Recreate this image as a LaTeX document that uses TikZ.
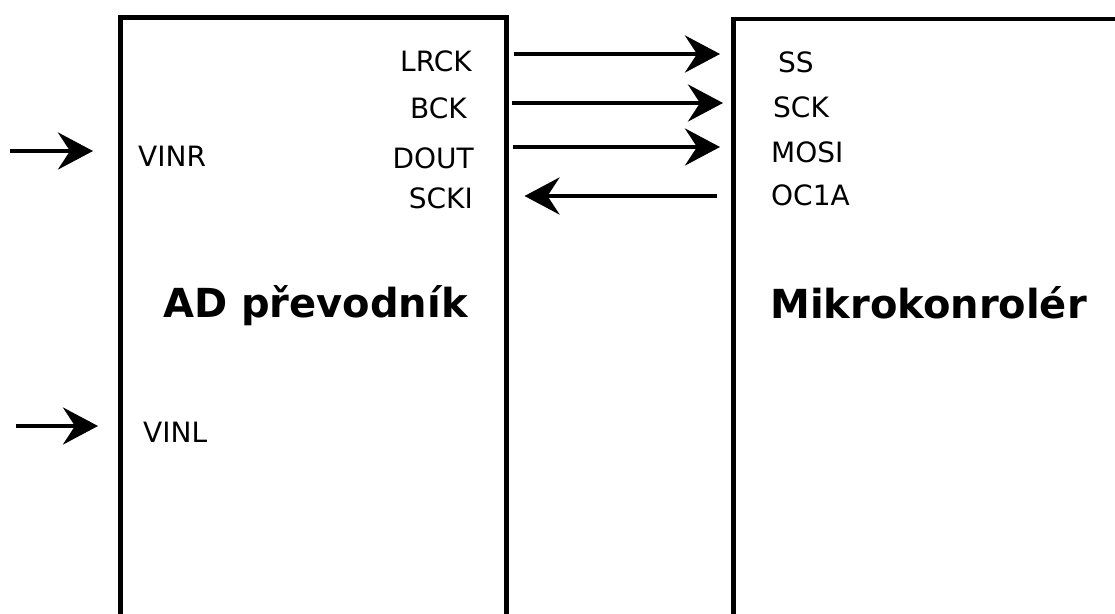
\documentclass[tikz,border=0pt]{standalone}
\usepackage{fontspec}
\setmainfont{DejaVu Sans}
\usetikzlibrary{arrows.meta}
\begin{document}
\begin{tikzpicture}[x=1pt,y=-1pt,
  block/.style={draw, line width=4.5pt, inner sep=0pt, anchor=north west, minimum height=700pt},
  pinlabel/.style={inner sep=0pt, font=\fontsize{28}{30}\selectfont},
  title/.style={inner sep=0pt, font=\fontsize{40}{44}\selectfont\bfseries, anchor=base west},
  sig/.style={line width=4.5pt, -{Stealth[length=35pt,width=37pt,inset=12pt]}},
]
\clip (0,0) rectangle (1115,613);
\fill[white] (0,0) rectangle (1115,613);

% the two blocks, running past the lower edge
\node[block, minimum width=386pt] (adc) at (118,15) {};
\node[block, minimum width=500pt] (mcu) at (731,16.5) {};

% block titles
\node[title] (adcname) at (163,317) {AD převodník};
\node[title] (mcuname) at (770,318) {Mikrokonrolér};

% ADC pins
\node[pinlabel, anchor=base east] (lrck) at (472,71) {LRCK};
\node[pinlabel, anchor=base east] (bck)  at (467,118) {BCK};
\node[pinlabel, anchor=base east] (dout) at (474,168) {DOUT};
\node[pinlabel, anchor=base east] (scki) at (473,208) {SCKI};
\node[pinlabel, anchor=base west] (vinr) at (138,166) {VINR};
\node[pinlabel, anchor=base west] (vinl) at (143,442) {VINL};

% MCU pins
\node[pinlabel, anchor=base west] (ss)   at (778,72) {SS};
\node[pinlabel, anchor=base west] (sck)  at (773,117) {SCK};
\node[pinlabel, anchor=base west] (mosi) at (771,162) {MOSI};
\node[pinlabel, anchor=base west] (oc1a) at (771,205) {OC1A};

% signal rows between the blocks
\coordinate (row1) at (0,54);
\coordinate (row2) at (0,103);
\coordinate (row3) at (0,147);
\coordinate (row4) at (0,196);

\draw[sig, shorten <=5pt, shorten >=11pt] (adc.east |- row1) -- (mcu.west |- row1);
\draw[sig, shorten <=3pt, shorten >=8pt]  (adc.east |- row2) -- (mcu.west |- row2);
\draw[sig, shorten <=4pt, shorten >=11pt] (adc.east |- row3) -- (mcu.west |- row3);
\draw[sig, shorten <=14pt, shorten >=16pt] (mcu.west |- row4) -- (adc.east |- row4);

% analog inputs
\coordinate (vinrsrc) at (10,151);
\coordinate (vinlsrc) at (16,426);
\draw[sig, shorten >=25pt] (vinrsrc) -- (vinrsrc -| adc.west);
\draw[sig, shorten >=20pt] (vinlsrc) -- (vinlsrc -| adc.west);
\end{tikzpicture}
\end{document}
